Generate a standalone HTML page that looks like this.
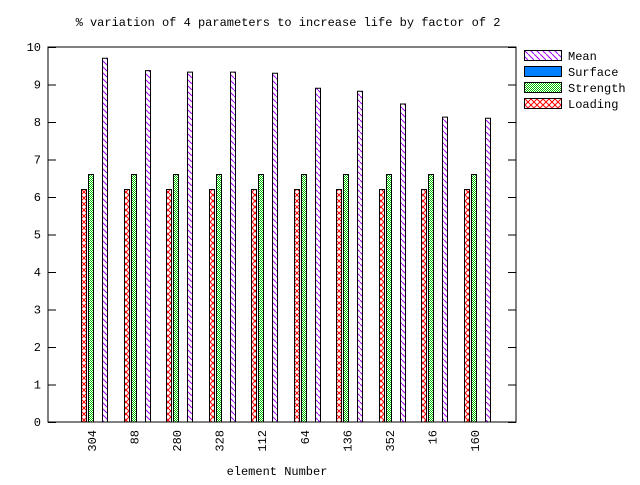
<!DOCTYPE html>
<html><head><meta charset="utf-8"><style>
body{margin:0;background:#fff}
svg text{font-family:"Liberation Mono","DejaVu Sans Mono",monospace;font-size:12px;fill:#000}
</style></head><body>
<svg width="640" height="480" xmlns="http://www.w3.org/2000/svg">
<defs>
<pattern id="pMean" width="6" height="6" patternUnits="userSpaceOnUse"><rect width="6" height="6" fill="#fff"/><path d="M0,0 L6,6" stroke="#a000ff" stroke-width="1"/></pattern>
<pattern id="pStr" width="2" height="2" patternUnits="userSpaceOnUse"><rect width="2" height="2" fill="#fff"/><rect width="1" height="1" fill="#00c000"/><rect x="1" y="1" width="1" height="1" fill="#00c000"/></pattern>
<pattern id="pLoad" width="6" height="6" patternUnits="userSpaceOnUse"><rect width="6" height="6" fill="#fff"/><path d="M0,0 L6,6 M6,0 L0,6" stroke="#ff0000" stroke-width="1"/></pattern>
</defs>
<text x="288" y="26" text-anchor="middle">% variation of 4 parameters to increase life by factor of 2</text>
<g id="bars"></g>
<g id="axes"></g>
<rect x="48" y="47" width="468" height="375" fill="none" stroke="#000"/>
<text x="277" y="475" text-anchor="middle">element Number</text>
<g>
<g><rect x="524.5" y="50.5" width="37" height="10" fill="url(#pMean)" stroke="#000"/><text x="568" y="60">Mean</text></g>
<g><rect x="524.5" y="66.5" width="37" height="10" fill="#0080ff" stroke="#000"/><text x="568" y="76">Surface</text></g>
<g><rect x="524.5" y="82.5" width="37" height="10" fill="url(#pStr)" stroke="#000"/><text x="568" y="92">Strength</text></g>
<g><rect x="524.5" y="98.5" width="37" height="10" fill="url(#pLoad)" stroke="#000"/><text x="568" y="108">Loading</text></g>
</g>
</svg>
<script>
const categories=["304","88","280","328","112","64","136","352","16","160"];
const loading=[6.2,6.2,6.2,6.2,6.2,6.2,6.2,6.2,6.2,6.2];
const strength=[6.6,6.6,6.6,6.6,6.6,6.6,6.6,6.6,6.6,6.6];
const surface=[0,0,0,0,0,0,0,0,0,0];
const mean=[9.7,9.37,9.33,9.33,9.3,8.9,8.82,8.48,8.13,8.1];
const yTicks=[0,1,2,3,4,5,6,7,8,9,10];
const NS="http://www.w3.org/2000/svg";
const y=v=>422-v*37.5;
const cx=i=>90.5+i*42.55;
const bars=document.getElementById('bars'),axes=document.getElementById('axes');
const series=[[loading,"url(#pLoad)",-9.5,"loading"],[strength,"url(#pStr)",-2.5,"strength"],[surface,"#0080ff",4.5,"surface"],[mean,"url(#pMean)",11.5,"mean"]];
categories.forEach((c,i)=>{
 series.forEach(s=>{
  const v=s[0][i]; if(v<=0) return;
  const r=document.createElementNS(NS,'rect');
  r.setAttribute('x',Math.round(cx(i)+s[2])+0.5);r.setAttribute('y',y(v));
  r.setAttribute('width',5);r.setAttribute('height',422-y(v));
  r.setAttribute('fill',s[1]);r.setAttribute('stroke','#000');
  
  
  bars.appendChild(r);
 });
 const t=document.createElementNS(NS,'text');
 const lx=cx(i)+5.5,ly=430;
 t.setAttribute('transform','translate('+lx+','+ly+') rotate(-90)');
 t.setAttribute('text-anchor','end');t.textContent=c;
 
 
 axes.appendChild(t);
});
yTicks.forEach(v=>{
 const l=document.createElementNS(NS,'path');
 l.setAttribute('d','M48,'+(y(v)+0.5)+'h8M516,'+(y(v)+0.5)+'h-8');l.setAttribute('stroke','#000');
 
 
 axes.appendChild(l);
 const t=document.createElementNS(NS,'text');
 t.setAttribute('x',41);t.setAttribute('y',y(v)+4);t.setAttribute('text-anchor','end');t.textContent=v;
 
 
 axes.appendChild(t);
});
</script>
</body></html>
